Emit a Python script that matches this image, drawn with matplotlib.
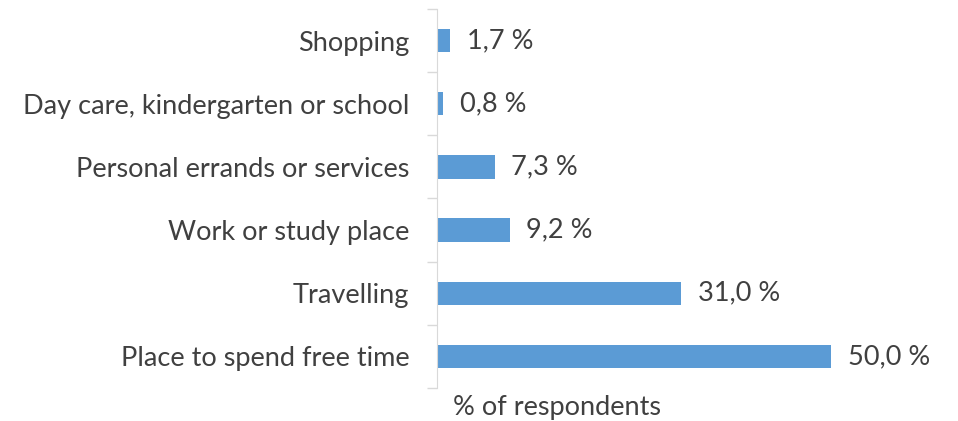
import matplotlib.pyplot as plt
import numpy as np

categories = ['Place to spend free time', 'Travelling', 'Work or study place',
              'Personal errands or services', 'Day care, kindergarten or school', 'Shopping']
values = [50.0, 31.0, 9.2, 7.3, 0.8, 1.7]
value_labels = ['50,0 %', '31,0 %', '9,2 %', '7,3 %', '0,8 %', '1,7 %']

plt.rcParams['font.family'] = ['Lato', 'DejaVu Sans']
text_color = '#404040'
grid_color = '#d9d9d9'
fs = 19.5

fig = plt.figure(figsize=(9.58, 4.21), dpi=100)
ax = fig.add_axes([437 / 958, 1 - 388 / 421, 473 / 958, 379 / 421])

y = np.arange(len(categories))
ax.barh(y, values, height=0.37, color='#5b9bd5')

for yi, v, lab in zip(y, values, value_labels):
    ax.annotate(lab, (v, yi), xytext=(12, 0), textcoords='offset points',
                va='center', ha='left', fontsize=fs, color=text_color)

ax.set_xlim(0, 60)
ax.set_ylim(-0.5, len(categories) - 0.5)

# category labels without ticks, boundary ticks as minor ticks
ax.set_yticks(y)
ax.set_yticklabels(categories, fontsize=fs, color=text_color)
ax.tick_params(axis='y', which='major', length=0, pad=20)
ax.set_yticks(np.arange(-0.5, len(categories)), minor=True)
ax.tick_params(axis='y', which='minor', length=7, color=grid_color, width=1)

ax.set_xticks([])
for side in ['top', 'right', 'bottom']:
    ax.spines[side].set_visible(False)
ax.spines['left'].set_color(grid_color)

fig.text(557 / 958, 1 - 408 / 421, '% of respondents', ha='center', va='center',
         fontsize=fs, color=text_color)

fig.savefig('out.png', dpi=100)
